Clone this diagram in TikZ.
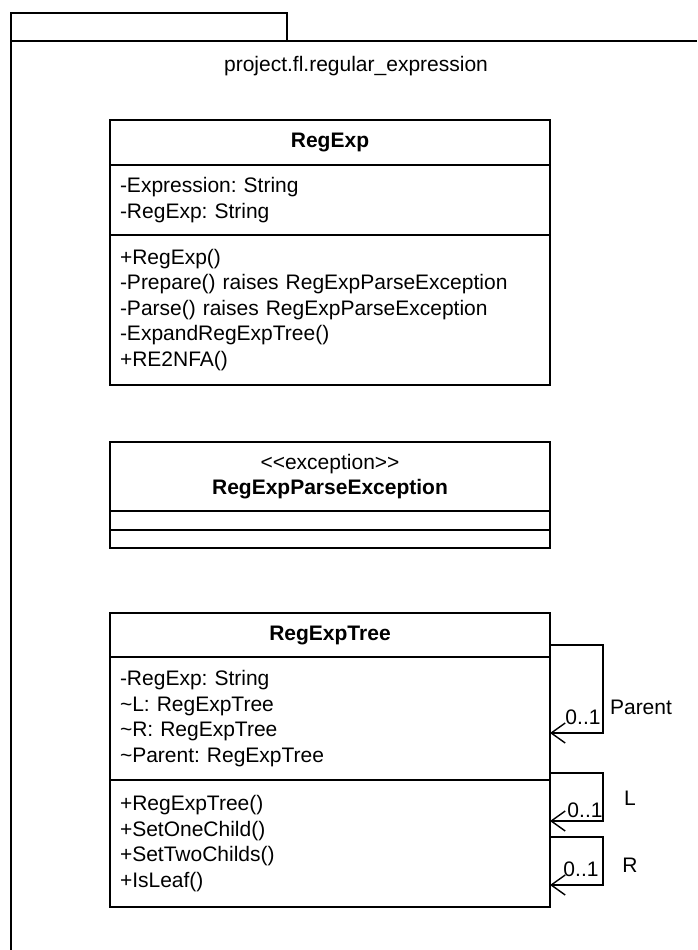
\documentclass[tikz,border=0pt]{standalone}
\usepackage{fontspec}
\setmainfont{Liberation Sans}
\usetikzlibrary{positioning,arrows.meta}

\newcommand{\umlsize}{\fontsize{21}{25.5}\selectfont\frenchspacing}

\tikzset{
  umlhead/.style={draw, line width=1.8pt, outer sep=0pt, inner xsep=10pt, inner ysep=0pt,
    text width=420pt, align=center, font=\umlsize\bfseries},
  umlpart/.style={draw, line width=1.8pt, outer sep=0pt, inner xsep=10pt, inner ysep=0pt,
    text width=420pt, align=left, font=\umlsize},
  selfref/.style={draw, line width=1.8pt,
    -{Straight Barb[length=14pt,width=20pt,line width=1.4pt]}},
}

\begin{document}
\begin{tikzpicture}[x=1pt, y=-1pt, font=\umlsize]
	\useasboundingbox (0,0) rectangle (697,950);
	
	% Package frame
	\draw[line width=1.8pt] (11,950) -- (11,13) -- (287,13) -- (287,41);
	\draw[line width=1.8pt] (11,41) -- (697,41);
	\node (pkg) at (356,66) {project.fl.regular\_expression};
	
	% Class RegExp
	\node[umlhead, minimum height=45pt, anchor=north] (regexp) at (330,120) {RegExp};
	\node[umlpart, minimum height=70pt, below=0pt of regexp] (regexpattr)
		{-Expression: String\\-RegExp: String};
	\node[umlpart, minimum height=150pt, below=0pt of regexpattr] (regexpops)
		{+RegExp()\\-Prepare() raises RegExpParseException\\-Parse() raises RegExpParseException\\-ExpandRegExpTree()\\+RE2NFA()};
	
	% Class RegExpParseException
	\node[umlhead, minimum height=69pt, anchor=north] (parseexc) at (330,442)
		{{\mdseries <\kern0pt<exception>\kern0pt>}\\RegExpParseException};
	\node[umlpart, minimum height=19pt, below=0pt of parseexc] (parseexcattr) {};
	\node[umlpart, minimum height=18pt, below=0pt of parseexcattr] (parseexcops) {};
	
	% Class RegExpTree
	\node[umlhead, minimum height=44pt, anchor=north] (tree) at (330,613) {RegExpTree};
	\node[umlpart, minimum height=123pt, below=0pt of tree] (treeattr)
		{-RegExp: String\\\textasciitilde L: RegExpTree\\\textasciitilde R: RegExpTree\\\textasciitilde Parent: RegExpTree};
	\node[umlpart, minimum height=127pt, below=0pt of treeattr] (treeops)
		{+RegExpTree()\\+SetOneChild()\\+SetTwoChilds()\\+IsLeaf()};
	
	% Self associations
	\draw[selfref] ([yshift=-32pt]tree.north east) -- ++(53,0) |- ([yshift=-76pt]treeattr.north east);
	\draw[selfref] ([yshift=7pt]treeattr.south east) -- ++(53,0) |- ([yshift=-41pt]treeops.north east);
	\draw[selfref] ([yshift=-57pt]treeops.north east) -- ++(53,0) |- ([yshift=22pt]treeops.south east);
	
	% Labels
	\node (multparent) at (583,717) {0..1};
	\node (roleparent) at (641,707) {Parent};
	\node (multl) at (585,810) {0..1};
	\node (rolel) at (630,798) {L};
	\node (multr) at (581,869) {0..1};
	\node (roler) at (630,865) {R};
\end{tikzpicture}
\end{document}
